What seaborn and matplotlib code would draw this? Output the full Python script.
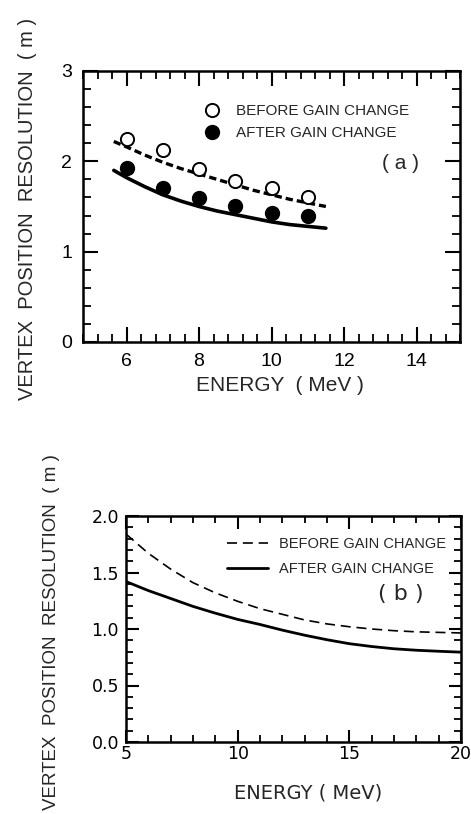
import numpy as np
import pandas as pd
import matplotlib
matplotlib.use("Agg")
import matplotlib.pyplot as plt
from matplotlib.ticker import MultipleLocator
from matplotlib.lines import Line2D
import seaborn as sns

# ---- data (a) ----
energy_pts = [6, 7, 8, 9, 10, 11]
before_pts = [2.25, 2.12, 1.91, 1.78, 1.70, 1.61]
after_pts = [1.93, 1.71, 1.59, 1.50, 1.43, 1.40]
energy_fit = [5.65, 6.0, 6.5, 7.0, 7.5, 8.0, 8.5, 9.0, 9.5, 10.0, 10.5, 11.0, 11.5]
before_fit = [2.22, 2.16, 2.07, 1.99, 1.92, 1.86, 1.80, 1.74, 1.68, 1.63, 1.58, 1.54, 1.50]
after_fit = [1.90, 1.82, 1.72, 1.63, 1.56, 1.50, 1.45, 1.41, 1.37, 1.33, 1.30, 1.28, 1.26]

# ---- data (b) ----
energy_b = [5, 6, 7, 8, 9, 10, 11, 12, 13, 14, 15, 16, 17, 18, 19, 20]
before_b = [1.84, 1.67, 1.53, 1.41, 1.32, 1.245, 1.18, 1.13, 1.08, 1.045, 1.02, 1.00, 0.985, 0.975, 0.97, 0.965]
after_b = [1.42, 1.34, 1.27, 1.20, 1.14, 1.085, 1.04, 0.99, 0.945, 0.905, 0.87, 0.845, 0.825, 0.812, 0.803, 0.795]

sns.set_theme(style="ticks")
plt.rcParams['font.family'] = ['Liberation Sans', 'DejaVu Sans']
plt.rcParams['axes.linewidth'] = 1.6

W, H = 471, 814
fig = plt.figure(figsize=(W / 100, H / 100), dpi=100)

def frame(l, t, r, b):
    return [l / W, 1 - b / H, (r - l) / W, (b - t) / H]

def style_ticks(ax, maj, mino, fs, pad):
    ax.tick_params(which='both', direction='in', top=True, right=True, colors='black')
    ax.tick_params(which='major', length=maj, width=1.5, labelsize=fs, pad=pad)
    ax.tick_params(which='minor', length=mino, width=1.3)
    for s in ax.spines.values():
        s.set_color('black')
        s.set_linewidth(1.8)

# ---------------- panel (a) ----------------
ax1 = fig.add_axes(frame(83, 71, 460, 342))
df_fit = pd.DataFrame({'E': energy_fit, 'before': before_fit, 'after': after_fit})
df_pts = pd.DataFrame({'E': energy_pts, 'before': before_pts, 'after': after_pts})
sns.lineplot(data=df_fit, x='E', y='before', ax=ax1, color='black', lw=2.4,
             linestyle=(0, (2.2, 1.2)))
sns.lineplot(data=df_fit, x='E', y='after', ax=ax1, color='black', lw=2.6)
sns.scatterplot(data=df_pts, x='E', y='before', ax=ax1, s=90, facecolor='white',
                edgecolor='black', linewidth=1.4, zorder=5)
sns.scatterplot(data=df_pts, x='E', y='after', ax=ax1, s=100, color='black',
                edgecolor='black', linewidth=1.0, zorder=5)
ax1.set_xlim(4.8, 15.2)
ax1.set_ylim(0, 3)
ax1.xaxis.set_major_locator(MultipleLocator(2))
ax1.xaxis.set_minor_locator(MultipleLocator(0.4))
ax1.yaxis.set_major_locator(MultipleLocator(1))
ax1.yaxis.set_minor_locator(MultipleLocator(0.2))
ax1.set_xticks([6, 8, 10, 12, 14])
style_ticks(ax1, 11, 6, 14, 8)
ax1.set_xlabel('ENERGY  ( MeV )', fontsize=15)
ax1.xaxis.set_label_coords(0.522, -0.125)
ax1.set_ylabel('VERTEX  POSITION  RESOLUTION  ( m )', fontsize=14.5)
ax1.yaxis.set_label_coords(-0.122, 0.49)
h1 = [Line2D([], [], ls='none', marker='o', ms=9.5, mfc='white', mec='black', mew=1.4),
      Line2D([], [], ls='none', marker='o', ms=10, mfc='black', mec='black')]
ax1.legend(h1, ['BEFORE GAIN CHANGE', 'AFTER GAIN CHANGE'], loc='upper left',
           bbox_to_anchor=(0.322, 0.877), frameon=False, fontsize=11,
           handlelength=1.0, handletextpad=1.05, labelspacing=0.5,
           borderpad=0, borderaxespad=0)
ax1.text(0.843, 0.66, '( a )', transform=ax1.transAxes, fontsize=15,
         ha='center', va='center')

# ---------------- panel (b) ----------------
ax2 = fig.add_axes(frame(126, 516, 461, 742))
df_b = pd.DataFrame({'E': energy_b, 'before': before_b, 'after': after_b})
sns.lineplot(data=df_b, x='E', y='before', ax=ax2, color='black', lw=1.2,
             linestyle=(0, (6, 3.5)))
sns.lineplot(data=df_b, x='E', y='after', ax=ax2, color='black', lw=2.0)
ax2.set_xlim(5, 20)
ax2.set_ylim(0, 2)
ax2.xaxis.set_major_locator(MultipleLocator(5))
ax2.xaxis.set_minor_locator(MultipleLocator(1))
ax2.yaxis.set_major_locator(MultipleLocator(0.5))
ax2.yaxis.set_minor_locator(MultipleLocator(0.1))
style_ticks(ax2, 9, 5, 12.5, 5)
ax2.tick_params(axis='x', pad=2)
ax2.set_yticks([0, 0.5, 1.0, 1.5, 2.0])
ax2.set_yticklabels(['0.0', '0.5', '1.0', '1.5', '2.0'], family='DejaVu Sans')
ax2.set_xticks([5, 10, 15, 20])
ax2.set_xticklabels(['5', '10', '15', '20'], family='DejaVu Sans')
ax2.set_xlabel('ENERGY ( MeV)', fontsize=14, family='DejaVu Sans')
ax2.xaxis.set_label_coords(0.545, -0.185)
ax2.set_ylabel('VERTEX  POSITION  RESOLUTION  ( m )', fontsize=13.5)
ax2.yaxis.set_label_coords(-0.197, 0.485)
h2 = [Line2D([], [], color='black', lw=1.2, ls=(0, (6, 3.5))),
      Line2D([], [], color='black', lw=2.0)]
ax2.legend(h2, ['BEFORE GAIN CHANGE', 'AFTER GAIN CHANGE'], loc='upper left',
           bbox_to_anchor=(0.302, 0.905), frameon=False, fontsize=10.5,
           handlelength=2.8, handletextpad=0.75, labelspacing=0.7,
           borderpad=0, borderaxespad=0)
ax2.text(0.82, 0.655, '( b )', transform=ax2.transAxes, fontsize=16,
         family='DejaVu Sans', ha='center', va='center')

fig.savefig('out.png', dpi=100)
